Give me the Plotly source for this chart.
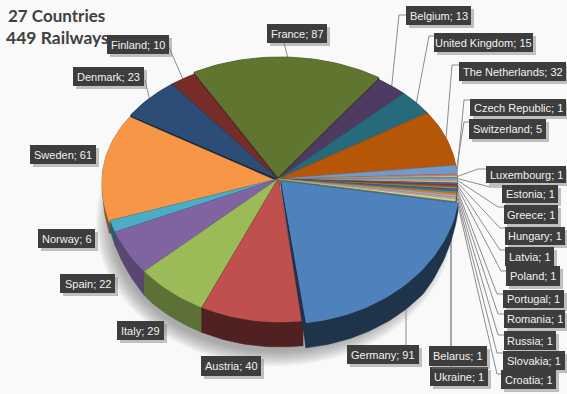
import math
import plotly.graph_objects as go

# ---- data ----
countries = ["France", "Belgium", "United Kingdom", "The Netherlands", "Switzerland", "Czech Republic",
             "Luxembourg", "Estonia", "Greece", "Hungary", "Latvia", "Poland", "Portugal", "Romania",
             "Russia", "Slovakia", "Croatia", "Ukraine", "Belarus", "Germany", "Austria", "Italy",
             "Spain", "Norway", "Sweden", "Denmark", "Finland"]
railways = [87, 13, 15, 32, 5, 1, 1, 1, 1, 1, 1, 1, 1, 1, 1, 1, 1, 1, 1, 91, 40, 29, 22, 6, 61, 23, 10]
colors = ["#5F7530", "#4D3B62", "#276A7C", "#B65708", "#729ACA", "#CD7371", "#AFC97A", "#9983B5",
          "#6FBDD1", "#F9AB6B", "#3A679C", "#9E3B38", "#7F9C40", "#664F82", "#358EA6", "#F07F09",
          "#95B3D7", "#D99694", "#C3D69B", "#4F81BD", "#C0504D", "#9BBB59", "#8064A2", "#4BACC6",
          "#F79646", "#2C4D75", "#772C2A"]
title_lines = ["27 Countries", "449 Railways"]

# ---- geometry of the tilted pie (pixels) ----
CX, CY = 280, 180
AX, AY = 278, 179
RX, RY_UP, RY_DOWN = 177, 121, 142
DEPTH = 25
START = -31.0
EXPLODE = {"France": (0, -2), "Germany": (3, 2), "Sweden": (-1, 2)}
WALL_SHADE = {"Germany": 0.40, "Austria": 0.42, "Italy": 0.60, "Spain": 0.70}
# perspective foreshortening of the view angle
WARP_AT = [-31, 39, 50, 62, 87, 175, 207, 231, 250, 302, 329]
WARP_BY = [2, -5, -5, -5, -4, -3, -1.5, -1, 0, 0, 2]

# label boxes: left, top, right, bottom, and optional elbow
BOX = {
    "Finland": (107, 35, 169, 54, None), "Denmark": (73, 67, 144, 86, None), "Sweden": (30, 145, 96, 164, None),
    "France": (267, 24, 327, 43, None), "Belgium": (406, 6, 471, 25, (399, 15)),
    "United Kingdom": (434, 33, 533, 52, (429, 36)), "The Netherlands": (459, 62, 566, 81, (452, 65)),
    "Czech Republic": (470, 99, 566, 116, (464, 100)), "Switzerland": (469, 119, 546, 139, (464, 122)),
    "Luxembourg": (486, 166, 566, 183, (478, 169)), "Estonia": (502, 185, 558, 203, (490, 187)),
    "Greece": (504, 205, 558, 224, (498, 207)), "Hungary": (505, 227, 565, 245, (500, 228)),
    "Latvia": (505, 247, 554, 266, (500, 250)), "Poland": (506, 266, 560, 286, (501, 271)),
    "Portugal": (503, 290, 564, 308, (497, 294)), "Romania": (504, 310, 565, 328, (498, 314)),
    "Russia": (504, 331, 556, 350, (498, 335)), "Slovakia": (503, 351, 565, 370, (497, 353)),
    "Croatia": (501, 370, 556, 389, (497, 374)), "Ukraine": (430, 367, 488, 386, (451, 367)),
    "Belarus": (429, 346, 487, 366, (451, 346)), "Germany": (347, 345, 419, 364, (406, 345)),
    "Austria": (201, 356, 261, 376, None), "Italy": (117, 321, 164, 340, None),
    "Spain": (60, 274, 115, 293, None), "Norway": (38, 229, 95, 248, None),
}
ANCHOR = {"Finland": (168, 45), "Denmark": (145, 80), "France": (284, 43)}


def warp(deg):
    for i in range(len(WARP_AT) - 1):
        if WARP_AT[i] <= deg <= WARP_AT[i + 1]:
            t = (deg - WARP_AT[i]) / (WARP_AT[i + 1] - WARP_AT[i])
            return deg + WARP_BY[i] + t * (WARP_BY[i + 1] - WARP_BY[i])
    return deg


def depth(deg):
    return DEPTH * min(1.0, max(0.08, -math.cos(math.radians(deg)) / 0.65))


def pt(deg, off=(0, 0), dz=0):
    a = math.radians(warp(deg))
    c = math.cos(a)
    ry = RY_UP if c > 0 else RY_DOWN
    return CX + off[0] + RX * math.sin(a), CY + off[1] + dz - ry * c


def shade(col, f):
    r, g, b = (int(col[i:i + 2], 16) for i in (1, 3, 5))
    return "#%02X%02X%02X" % (int(r * f), int(g * f), int(b * f))


def poly(xs, ys, col, lw=0.5):
    fig.add_trace(go.Scatter(x=xs, y=ys, mode="lines", fill="toself", fillcolor=col,
                             line=dict(color=col, width=lw), hoverinfo="skip", showlegend=False))


fig = go.Figure()

# soft shadow under the pie
for i in range(10):
    rx, ry = 179 - i * 1.6, 144 - i * 1.6
    pts = [(275 + rx * math.cos(t / 60 * math.pi), 222 + ry * math.sin(t / 60 * math.pi)) for t in range(121)]
    poly([p[0] for p in pts], [p[1] for p in pts], "rgba(90,90,90,0.06)", 0)

# slices: angular extents come from the values
total = sum(railways)
slices = []
ang = START
for name, v, col in zip(countries, railways, colors):
    a1 = ang + v / total * 360
    slices.append(dict(name=name, v=v, col=col, a0=ang, a1=a1, mid=(ang + a1) / 2,
                       off=EXPLODE.get(name, (0, 0))))
    ang = a1

# leader lines sit behind the pie
for s in slices:
    b = BOX[s["name"]]
    if s["name"] in ("Sweden", "Austria", "Italy", "Spain", "Norway"):
        continue
    if s["name"] == "Germany":
        xs, ys = [406, 406], [345, 305]
    elif s["name"] in ("Ukraine", "Belarus"):
        xs, ys = [451, 451], [b[1], 225]
    else:
        end = pt(s["mid"], s["off"])
        if s["name"] in ANCHOR:
            st = ANCHOR[s["name"]]
            xs, ys = [st[0], end[0]], [st[1], end[1]]
        else:
            el = b[4]
            xs, ys = [b[0], el[0], end[0]], [el[1], el[1], end[1]]
    fig.add_trace(go.Scatter(x=xs, y=ys, mode="lines", line=dict(color="#8C8C8C", width=1),
                             hoverinfo="skip", showlegend=False))

order = sorted([s for s in slices if s["name"] != "Germany"], key=lambda s: -math.cos(math.radians(s["mid"])))
order += [s for s in slices if s["name"] == "Germany"]
for s in order:
    n = max(2, int((s["a1"] - s["a0"]) / 1.5) + 1)
    arc = [s["a0"] + (s["a1"] - s["a0"]) * k / n for k in range(n + 1)]
    top = [pt(a, s["off"]) for a in arc]
    bot = [pt(a, s["off"], depth(a)) for a in arc]
    apex = (AX + s["off"][0], AY + s["off"][1])
    apex_b = (apex[0], apex[1] + 6)
    wall = shade(s["col"], WALL_SHADE.get(s["name"], 0.55))
    # extruded side: both cut faces and the rim
    for e, eb in ((top[0], bot[0]), (top[-1], bot[-1])):
        poly([apex[0], e[0], eb[0], apex_b[0]], [apex[1], e[1], eb[1], apex_b[1]], wall)
    rim = top + bot[::-1]
    poly([p[0] for p in rim], [p[1] for p in rim], wall)
    face = [apex] + top
    poly([p[0] for p in face], [p[1] for p in face], s["col"])

# label boxes with drop shadows
shapes = []
annotations = []
for s in slices:
    l, t, r, b, _ = BOX[s["name"]]
    shapes.append(dict(type="rect", x0=l + 3, y0=t + 3, x1=r + 3, y1=b + 3, layer="above",
                       fillcolor="rgba(120,120,120,0.45)", line_width=0))
    shapes.append(dict(type="rect", x0=l, y0=t, x1=r, y1=b, layer="above",
                       fillcolor="#3D3D3D", line_width=0))
    annotations.append(dict(x=(l + r) / 2, y=(t + b) / 2, text=f"{s['name']}; {s['v']}", showarrow=False,
                            font=dict(family="Liberation Sans", size=11, color="#F2F2F2"), xref="x", yref="y"))

annotations.append(dict(x=6, y=15, text=title_lines[0], showarrow=False, xanchor="left",
                        font=dict(family="Lato", size=17, color="#404040", weight="bold")))
annotations.append(dict(x=4, y=37, text=title_lines[1], showarrow=False, xanchor="left",
                        font=dict(family="Lato", size=17.5, color="#404040", weight="bold")))

fig.update_layout(
    width=567, height=394, margin=dict(l=0, r=0, t=0, b=0),
    paper_bgcolor="#F9F9F9", plot_bgcolor="#F9F9F9", showlegend=False,
    xaxis=dict(range=[0, 567], visible=False, fixedrange=True),
    yaxis=dict(range=[394, 0], visible=False, fixedrange=True),
    shapes=shapes, annotations=annotations,
)
fig.write_html("out.html", config={"displayModeBar": False},
               post_script="document.body.style.margin='0';document.body.style.overflow='hidden';")
